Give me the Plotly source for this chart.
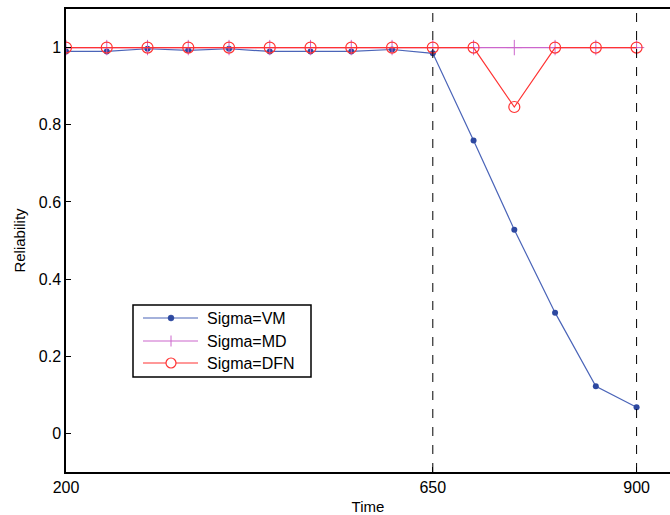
import plotly.graph_objects as go

# Time steps and reliability of each sigma variant
time = [200, 250, 300, 350, 400, 450, 500, 550, 600, 650, 700, 750, 800, 850, 900]
rel_vm = [0.990, 0.990, 0.997, 0.993, 0.997, 0.990, 0.990, 0.990, 0.995, 0.985,
          0.759, 0.528, 0.313, 0.122, 0.068]
rel_md = [1.0] * 15
rel_dfn = [1.0, 1.0, 1.0, 1.0, 1.0, 1.0, 1.0, 1.0, 1.0, 1.0, 1.0, 0.846, 1.0, 1.0, 1.0]
series_names = ["Sigma=VM", "Sigma=MD", "Sigma=DFN"]
markers_x = [650, 900]
x_ticks = [200, 650, 900]
y_ticks = [0, 0.2, 0.4, 0.6, 0.8, 1]
y_tick_text = ["0", "0.2", "0.4", "0.6", "0.8", "1"]

font = "Liberation Sans, Arial, sans-serif"
VM_LINE, VM_DOT = "#4A64B8", "#2D48A0"
MD_COL = "#CC66CC"
DFN_COL = "#FF3333"

W, H = 670, 515
M_L, M_R, M_T, M_B = 66, 0, 9, 43
PW, PH = W - M_L - M_R, H - M_T - M_B


def px_x(p):
    return (p - M_L) / PW


def px_y(p):
    return (H - M_B - p) / PH


fig = go.Figure()
fig.add_trace(go.Scatter(
    x=time, y=rel_vm, name=series_names[0], mode="lines+markers",
    line=dict(color=VM_LINE, width=1.2),
    marker=dict(symbol="circle", size=6, color=VM_DOT),
))
fig.add_trace(go.Scatter(
    x=time, y=rel_md, name=series_names[1], mode="lines+markers",
    line=dict(color=MD_COL, width=1.2),
    marker=dict(symbol="cross-thin", size=11, line=dict(color=MD_COL, width=1)),
))
fig.add_trace(go.Scatter(
    x=time, y=rel_dfn, name=series_names[2], mode="lines+markers",
    line=dict(color=DFN_COL, width=1.2),
    marker=dict(symbol="circle-open", size=11, color=DFN_COL, line=dict(width=1.2)),
))

shapes = []
for xv in markers_x:
    shapes.append(dict(type="line", xref="x", yref="paper", x0=xv, x1=xv, y0=0, y1=1,
                       line=dict(color="black", width=1, dash="dash"), layer="above"))

# Legend box drawn with shapes and annotations
shapes.append(dict(type="rect", xref="paper", yref="paper",
                   x0=px_x(133), x1=px_x(311), y0=px_y(377), y1=px_y(305),
                   line=dict(color="black", width=1.5), fillcolor="white", layer="above"))
annotations = []
rows = [318, 341, 363]
line_cols = [VM_LINE, MD_COL, DFN_COL]
mx = px_x(171)
for name, row, col in zip(series_names, rows, line_cols):
    yy = px_y(row)
    shapes.append(dict(type="line", xref="paper", yref="paper",
                       x0=px_x(143), x1=px_x(198), y0=yy, y1=yy,
                       line=dict(color=col, width=1.2), layer="above"))
    annotations.append(dict(xref="paper", yref="paper", x=px_x(205), y=yy,
                            text=name, showarrow=False, xanchor="left", yanchor="middle",
                            font=dict(family=font, size=16, color="black")))
# legend symbols
y_vm, y_md, y_dfn = (px_y(r) for r in rows)
shapes.append(dict(type="circle", xref="paper", yref="paper",
                   xsizemode="pixel", ysizemode="pixel", xanchor=mx, yanchor=y_vm,
                   x0=-3, x1=3, y0=-3, y1=3, fillcolor=VM_DOT,
                   line=dict(color=VM_DOT, width=0.5), layer="above"))
shapes.append(dict(type="line", xref="paper", yref="paper",
                   xsizemode="pixel", ysizemode="pixel", xanchor=mx, yanchor=y_md,
                   x0=0, x1=0, y0=-5.5, y1=5.5,
                   line=dict(color=MD_COL, width=1), layer="above"))
shapes.append(dict(type="circle", xref="paper", yref="paper",
                   xsizemode="pixel", ysizemode="pixel", xanchor=mx, yanchor=y_dfn,
                   x0=-5, x1=5, y0=-5, y1=5, fillcolor="white",
                   line=dict(color=DFN_COL, width=1.2), layer="above"))

fig.update_layout(
    width=W, height=H,
    margin=dict(l=M_L, r=M_R, t=M_T, b=M_B),
    plot_bgcolor="white", paper_bgcolor="white",
    font=dict(family=font, size=16, color="black"),
    showlegend=False,
    shapes=shapes,
    annotations=annotations,
    xaxis=dict(
        range=[200, 941], tickvals=x_ticks, ticktext=[str(v) for v in x_ticks],
        showgrid=False, zeroline=False, showline=True, linecolor="black", linewidth=1.5,
        mirror=True, ticks="inside", ticklen=5, tickcolor="black",
        tickfont=dict(size=16),
        title=dict(text="Time", font=dict(size=15), standoff=8),
    ),
    yaxis=dict(
        range=[-0.1, 1.1], tickvals=y_ticks, ticktext=y_tick_text,
        showgrid=False, zeroline=False, showline=True, linecolor="black", linewidth=1.5,
        ticks="inside", ticklen=5, tickcolor="black",
        tickfont=dict(size=16),
        title=dict(text="Reliability", font=dict(size=15), standoff=10),
    ),
)

fig.write_html("out.html")
